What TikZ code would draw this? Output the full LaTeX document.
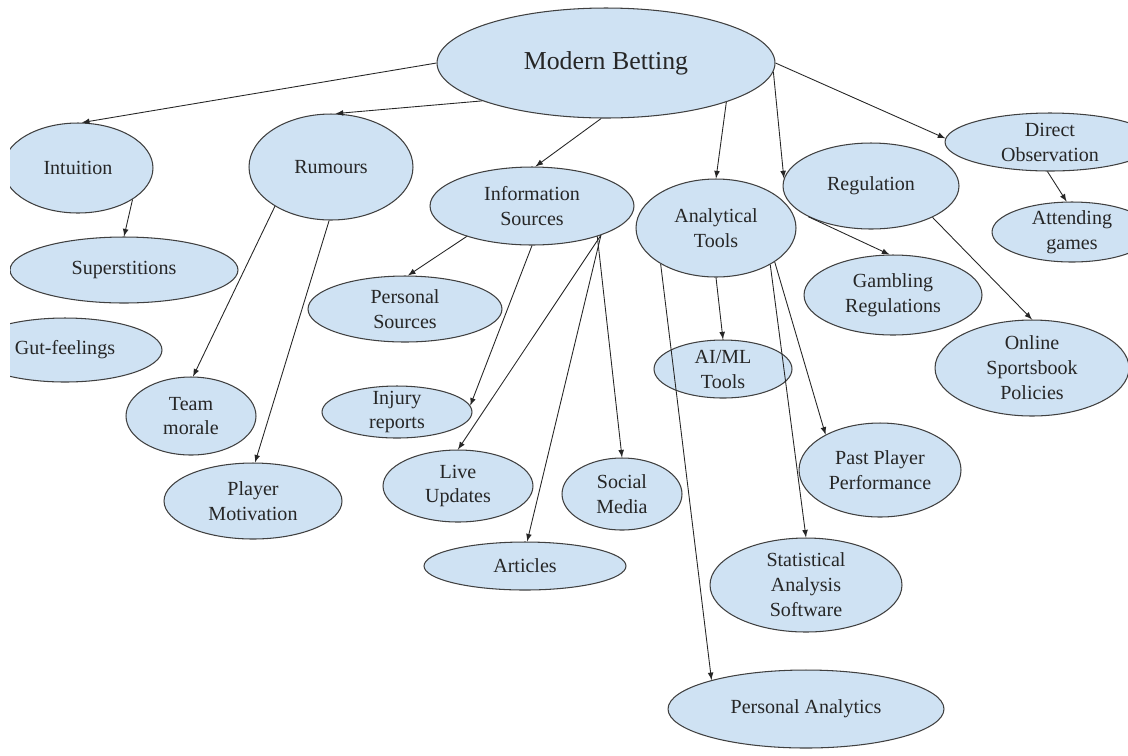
\documentclass[tikz,border=0pt]{standalone}
\usepackage{fontspec}
\newfontfamily\bubfont{LiberationSerif-Regular.ttf}
\usetikzlibrary{arrows}
\usetikzlibrary{shapes.geometric}
\definecolor{bubfill}{HTML}{CFE2F3}

\begin{document}
\begin{tikzpicture}[x=0.02cm,y=-0.02cm,>=latex,
		bub/.style={ellipse,draw=black!75,line width=0.6pt,fill=bubfill,align=center,
			inner xsep=0pt,inner ysep=-4pt,text=black!85,font=\bubfont\fontsize{11.4}{14.2}\selectfont},
		conn/.style={->,line width=0.5pt,draw=black!85}]
		\useasboundingbox (0,0) rectangle (1128,755);
		\clip (10,0) rectangle (1128,755);
		% main topic
		\node[bub,minimum width=6.76cm,minimum height=2.2cm,font=\bubfont\fontsize{14.7}{18}\selectfont] (mb) at (606,63) {Modern Betting};
		% left branch
		\node[bub,minimum width=3.0cm,minimum height=1.8cm] (intu) at (78,168) {Intuition};
		\node[bub,minimum width=4.56cm,minimum height=1.32cm] (sup) at (124,270) {Superstitions};
		\node[bub,minimum width=3.88cm,minimum height=1.28cm] (gut) at (65,350) {Gut-feelings};
		\node[bub,minimum width=3.28cm,minimum height=2.12cm] (rum) at (331,167) {Rumours};
		\node[bub,minimum width=2.6cm,minimum height=1.56cm] (team) at (191,416) {Team\\morale};
		\node[bub,minimum width=3.56cm,minimum height=1.52cm] (motiv) at (253,501) {Player\\Motivation};
		% information
		\node[bub,minimum width=4.08cm,minimum height=1.56cm] (info) at (532,206) {Information\\Sources};
		\node[bub,minimum width=3.88cm,minimum height=1.32cm] (psrc) at (405,309) {Personal\\Sources};
		\node[bub,minimum width=3.0cm,minimum height=1.04cm] (injury) at (397,412) {Injury\\reports};
		\node[bub,minimum width=3.0cm,minimum height=1.44cm] (live) at (458,486) {Live\\Updates};
		\node[bub,minimum width=2.4cm,minimum height=1.44cm] (social) at (622,494) {Social\\Media};
		\node[bub,minimum width=4.04cm,minimum height=0.96cm] (art) at (525,566) {Articles};
		% analytics
		\node[bub,minimum width=3.2cm,minimum height=1.96cm] (anly) at (716,228) {Analytical\\Tools};
		\node[bub,minimum width=2.76cm,minimum height=1.16cm] (aiml) at (723,369) {AI/ML\\Tools};
		\node[bub,minimum width=3.24cm,minimum height=1.88cm] (past) at (880,470) {Past Player\\Performance};
		\node[bub,minimum width=3.84cm,minimum height=1.88cm] (stat) at (806,585) {Statistical\\Analysis\\Software};
		\node[bub,minimum width=5.52cm,minimum height=1.56cm] (panly) at (806,709) {Personal Analytics};
		% right branch
		\node[bub,minimum width=3.52cm,minimum height=1.72cm] (reg) at (871,186) {Regulation};
		\node[bub,minimum width=3.56cm,minimum height=1.6cm] (gamb) at (893,295) {Gambling\\Regulations};
		\node[bub,minimum width=3.88cm,minimum height=1.92cm] (online) at (1032,368) {Online\\Sportsbook\\Policies};
		\node[bub,minimum width=4.2cm,minimum height=1.16cm] (direct) at (1050,142) {Direct\\Observation};
		\node[bub,minimum width=3.2cm,minimum height=1.2cm] (attend) at (1072,232) {Attending\\games};

		\draw[conn] (mb.west) -- (intu.85);
		\draw[conn] (mb.197) -- (rum.85);
		\draw[conn] (mb.265) -- (info.85);
		\draw[conn] (mb.342) -- (anly.north);
		\draw[conn] (mb.357) -- (reg.175);
		\draw[conn] (mb.east) -- (direct.178);
		\draw[conn] (intu.330) -- (sup.north);
		\draw[conn] (rum.215) -- (team.87);
		\draw[conn] (rum.268) -- (motiv.87);
		\draw[conn] (info.205) -- (psrc.85);
		\draw[conn] (info.270) -- (injury.5);
		\draw[conn] (info.337) -- (live.north);
		\draw[conn] (info.337) -- (art.85);
		\draw[conn] (info.335) -- (social.north);
		\draw[conn] (anly.south) -- (aiml.north);
		\draw[conn] (anly.213) -- (panly.163);
		\draw[conn] (anly.326) -- (stat.north);
		\draw[conn] (anly.330) -- (past.147);
		\draw[conn] (reg.206) -- (gamb.95);
		\draw[conn] (reg.333) -- (online.north);
		\draw[conn] (direct.265) -- (attend.100);
	\end{tikzpicture}
\end{document}
